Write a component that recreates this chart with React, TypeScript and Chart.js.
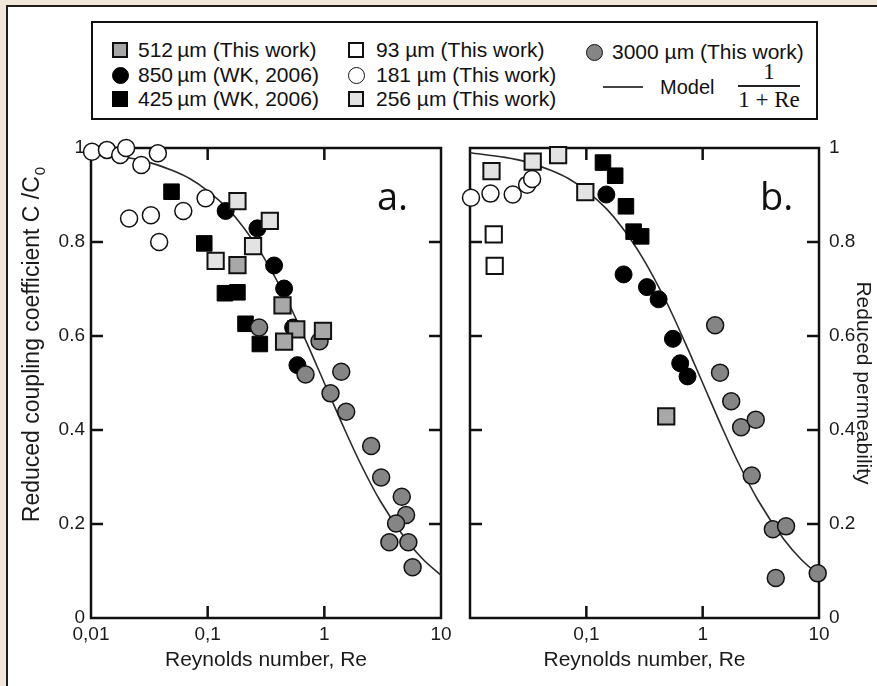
import React, { useEffect, useRef } from 'react';
import { Chart, registerables } from 'chart.js';

Chart.register(...registerables);

const SANS = '"Liberation Sans", Arial, Helvetica, sans-serif';
const SERIF = '"Liberation Serif", "Times New Roman", serif';

// ---------- axis ticks ----------
const xTickValues = [0.01, 0.1, 1, 10];
const xTickLabels = ['0,01', '0,1', '1', '10'];
const yTickValues = [0, 0.2, 0.4, 0.6, 0.8, 1];
const yTickLabels = ['0', '0.2', '0.4', '0.6', '0.8', '1'];
const innerXTicks = [0.1, 1];
const innerYTicks = [0.2, 0.4, 0.6, 0.8];

// ---------- legend labels ----------
const label512 = '512\u2009µm (This work)';
const label850 = '850\u2009µm (WK, 2006)';
const label425 = '425\u2009µm (WK, 2006)';
const label93 = '93 µm (This work)';
const label181 = '181 µm (This work)';
const label256 = '256 µm (This work)';
const label3000 = '3000 µm (This work)';
const labelModel = 'Model';

// ---------- model curve 1/(1+Re), read values ----------
const modelRe = [0.01, 0.02, 0.03, 0.05, 0.07, 0.1, 0.15, 0.2, 0.3, 0.5, 0.7, 1, 1.5, 2, 3, 5, 7, 10];
const modelVal = [0.990, 0.980, 0.971, 0.952, 0.935, 0.909, 0.870, 0.833, 0.769, 0.667, 0.588, 0.500, 0.400, 0.333, 0.250, 0.167, 0.125, 0.091];

// ---------- panel a: reduced coupling coefficient ----------
const a181Re = [0.0102, 0.0137, 0.0178, 0.020, 0.027, 0.0374, 0.096, 0.0212, 0.0326, 0.0618, 0.0384];
const a181C = [0.992, 0.996, 0.985, 1.0, 0.964, 0.989, 0.893, 0.850, 0.857, 0.866, 0.80];
const a425Re = [0.049, 0.0935, 0.1406, 0.180, 0.211, 0.28];
const a425C = [0.907, 0.797, 0.691, 0.693, 0.626, 0.583];
const a850Re = [0.1426, 0.267, 0.371, 0.452, 0.54, 0.588];
const a850C = [0.866, 0.829, 0.750, 0.701, 0.618, 0.538];
const a256Re = [0.180, 0.341, 0.245, 0.117];
const a256C = [0.887, 0.845, 0.791, 0.760];
const a512Re = [0.18, 0.438, 0.575, 0.452, 0.973];
const a512C = [0.751, 0.665, 0.614, 0.588, 0.611];
const a3000Re = [0.276, 0.91, 0.69, 1.397, 1.13, 1.54, 2.52, 3.07, 4.61, 5.02, 4.12, 3.61, 5.25, 5.71];
const a3000C = [0.618, 0.589, 0.518, 0.524, 0.478, 0.439, 0.366, 0.299, 0.258, 0.219, 0.201, 0.161, 0.161, 0.108];

// ---------- panel b: reduced permeability ----------
const b256Re = [0.0153, 0.0346, 0.0572, 0.098];
const b256K = [0.951, 0.971, 0.985, 0.906];
const b93Re = [0.016, 0.0163];
const b93K = [0.816, 0.749];
const b181Re = [0.0102, 0.015, 0.0233, 0.031, 0.0342];
const b181K = [0.894, 0.903, 0.901, 0.922, 0.934];
const b425Re = [0.139, 0.177, 0.219, 0.255, 0.296];
const b425K = [0.969, 0.941, 0.876, 0.822, 0.812];
const b850Re = [0.1486, 0.209, 0.332, 0.418, 0.555, 0.641, 0.741];
const b850K = [0.901, 0.731, 0.704, 0.678, 0.594, 0.542, 0.514];
const b512Re = [0.486];
const b512K = [0.429];
const b3000Re = [1.28, 1.41, 1.76, 2.14, 2.86, 2.64, 4.01, 5.21, 4.25, 9.75];
const b3000K = [0.623, 0.522, 0.461, 0.406, 0.422, 0.303, 0.189, 0.195, 0.085, 0.095];

// ---------- marker styles ----------
type MStyle = { shape: string; fill: string; border: string; radius: number; bw: number };
const ST: Record<string, MStyle> = {
  s512: { shape: 'rect', fill: '#a8a8a8', border: '#111', radius: 11.5, bw: 2 },
  s850: { shape: 'circle', fill: '#000', border: '#000', radius: 8.5, bw: 1 },
  s425: { shape: 'rect', fill: '#000', border: '#000', radius: 11, bw: 1 },
  s93: { shape: 'rect', fill: '#fff', border: '#111', radius: 11.5, bw: 2 },
  s181: { shape: 'circle', fill: '#fff', border: '#111', radius: 8.5, bw: 1.5 },
  s256: { shape: 'rect', fill: '#e3e3e3', border: '#111', radius: 11.5, bw: 2 },
  s3000: { shape: 'circle', fill: '#858585', border: '#111', radius: 8.5, bw: 1.5 },
};

function series(label: string, xs: number[], ys: number[], st: MStyle, order: number) {
  return {
    label,
    data: xs.map((x, i) => ({ x, y: ys[i] })),
    pointStyle: st.shape,
    pointRadius: st.radius,
    pointHoverRadius: st.radius,
    pointBackgroundColor: st.fill,
    pointBorderColor: st.border,
    pointBorderWidth: st.bw,
    backgroundColor: st.fill,
    borderColor: st.border,
    showLine: false,
    clip: false as any,
    order,
  };
}

function modelSeries() {
  return {
    label: labelModel,
    data: modelRe.map((x, i) => ({ x, y: modelVal[i] })),
    showLine: true,
    pointRadius: 0,
    borderColor: '#2a2a2a',
    borderWidth: 1.6,
    cubicInterpolationMode: 'monotone' as const,
    order: 100,
  };
}

const panelDecor = {
  id: 'panelDecor',
  beforeDatasetsDraw(chart: any) {
    const { ctx, chartArea, scales } = chart;
    const { left, right, top, bottom } = chartArea;
    ctx.save();
    ctx.strokeStyle = '#111';
    ctx.lineWidth = 2.5;
    ctx.strokeRect(left, top, right - left, bottom - top);
    ctx.beginPath();
    for (const v of innerYTicks) {
      const py = scales.y.getPixelForValue(v);
      ctx.moveTo(left, py); ctx.lineTo(left + 12, py);
      ctx.moveTo(right, py); ctx.lineTo(right - 12, py);
    }
    for (const v of innerXTicks) {
      const px = scales.x.getPixelForValue(v);
      ctx.moveTo(px, bottom); ctx.lineTo(px, bottom - 12);
      ctx.moveTo(px, top); ctx.lineTo(px, top + 12);
    }
    ctx.stroke();
    ctx.restore();
  },
  afterDraw(chart: any, _a: any, opts: any) {
    const { ctx, chartArea } = chart;
    ctx.save();
    ctx.fillStyle = '#111';
    ctx.font = '38px "Open Sans", "Liberation Sans", sans-serif';
    ctx.textAlign = 'left';
    ctx.textBaseline = 'alphabetic';
    ctx.fillText(opts.letter, chartArea.right - opts.letterDx, chartArea.top + 62);
    if (opts.yTitle) {
      ctx.translate(opts.yTitleX, opts.yTitleY);
      ctx.rotate(-Math.PI / 2);
      ctx.font = '23px ' + SANS;
      const w1 = ctx.measureText(opts.yTitle).width;
      ctx.font = '15px ' + SANS;
      const w2 = ctx.measureText(opts.yTitleSub).width;
      const start = -(w1 + w2) / 2;
      ctx.textBaseline = 'middle';
      ctx.fillStyle = '#1a1a1a';
      ctx.font = '23px ' + SANS;
      ctx.fillText(opts.yTitle, start, 0);
      ctx.font = '15px ' + SANS;
      ctx.fillText(opts.yTitleSub, start + w1 + 1, 8);
    }
    ctx.restore();
  },
};

function tickLabelX(v: number) {
  const i = xTickValues.findIndex((t) => Math.abs(t - v) < 1e-9);
  return i >= 0 ? xTickLabels[i] : '';
}
function tickLabelY(v: number) {
  const i = yTickValues.findIndex((t) => Math.abs(t - v) < 1e-9);
  return i >= 0 ? yTickLabels[i] : '';
}

function makeChart(canvas: HTMLCanvasElement, panel: 'a' | 'b', datasets: any[]) {
  const isA = panel === 'a';
  const xTicks = isA ? xTickValues : xTickValues.slice(1);
  return new Chart(canvas, {
    type: 'scatter',
    data: { datasets },
    plugins: [panelDecor as any],
    options: {
      animation: false,
      responsive: false,
      devicePixelRatio: 1,
      events: [],
      layout: {
        padding: isA ? { left: 0, right: 17, top: 148, bottom: 0 } : { left: 18, right: 0, top: 148, bottom: 0 },
      },
      plugins: {
        legend: { display: false },
        tooltip: { enabled: false },
        panelDecor: isA
          ? { letter: 'a.', letterDx: 64, yTitle: 'Reduced coupling coefficient C /C', yTitleSub: '0', yTitleX: 33, yTitleY: 345 }
          : { letter: 'b.', letterDx: 59, yTitle: '' },
      } as any,
      scales: {
        x: {
          type: 'logarithmic',
          position: 'bottom',
          min: 0.01,
          max: 10,
          afterBuildTicks: (s: any) => { s.ticks = xTicks.map((v) => ({ value: v })); },
          afterFit: (s: any) => { s.height = 68; },
          grid: { display: false, drawTicks: false },
          border: { display: false },
          ticks: {
            autoSkip: false,
            maxRotation: 0,
            padding: 5,
            color: '#1a1a1a',
            font: { family: SANS, size: 19 },
            callback: (v: any) => tickLabelX(Number(v)),
          },
          title: {
            display: true,
            text: 'Reynolds number, Re',
            color: '#1a1a1a',
            font: { family: SANS, size: 21 },
            padding: { top: 0, bottom: 13 },
          },
        } as any,
        y: {
          type: 'linear',
          position: isA ? 'left' : 'right',
          min: 0,
          max: 1,
          afterBuildTicks: (s: any) => { s.ticks = yTickValues.map((v) => ({ value: v })); },
          afterFit: (s: any) => { s.width = isA ? 91 : 58; },
          grid: { display: false, drawTicks: false },
          border: { display: false },
          ticks: {
            autoSkip: false,
            padding: isA ? 6 : 10,
            color: '#1a1a1a',
            font: { family: SANS, size: 19 },
            callback: (v: any) => tickLabelY(Number(v)),
          },
          title: {
            display: !isA,
            text: 'Reduced permeability',
            color: '#1a1a1a',
            font: { family: SANS, size: 21 },
            padding: { top: 2, bottom: 0 },
          },
        } as any,
      },
    },
  });
}

function LegendMarker({ st, x, y }: { st: MStyle; x: number; y: number }) {
  const size = st.shape === 'rect' ? 16 : 17;
  return (
    <div
      style={{
        position: 'absolute',
        left: x - size / 2,
        top: y - size / 2,
        width: size,
        height: size,
        boxSizing: 'border-box',
        background: st.fill,
        border: `${st.shape === 'rect' ? 2 : 1.5}px solid ${st.border}`,
        borderRadius: st.shape === 'circle' ? '50%' : 0,
      }}
    />
  );
}

function LegendText({ text, x, y, size = 21 }: { text: string; x: number; y: number; size?: number }) {
  return (
    <div
      style={{
        position: 'absolute',
        left: x,
        top: y - 13,
        height: 26,
        lineHeight: '26px',
        fontFamily: SANS,
        fontSize: size,
        color: '#111',
        whiteSpace: 'nowrap',
      }}
    >
      {text}
    </div>
  );
}

function Legend() {
  const rows = [50, 75, 99];
  return (
    <>
      <div
        style={{
          position: 'absolute',
          left: 91,
          top: 21,
          width: 727,
          height: 99,
          boxSizing: 'border-box',
          border: '2.5px solid #111',
          background: '#fff',
        }}
      />
      <LegendMarker st={ST.s512} x={120} y={rows[0]} />
      <LegendText text={label512} x={138} y={rows[0]} />
      <LegendMarker st={ST.s850} x={120} y={rows[1]} />
      <LegendText text={label850} x={138} y={rows[1]} />
      <LegendMarker st={ST.s425} x={120} y={rows[2]} />
      <LegendText text={label425} x={138} y={rows[2]} />

      <LegendMarker st={ST.s93} x={356} y={rows[0]} />
      <LegendText text={label93} x={376} y={rows[0]} />
      <LegendMarker st={ST.s181} x={356} y={rows[1]} />
      <LegendText text={label181} x={376} y={rows[1]} />
      <LegendMarker st={ST.s256} x={356} y={rows[2]} />
      <LegendText text={label256} x={376} y={rows[2]} />

      <LegendMarker st={ST.s3000} x={594} y={52} />
      <LegendText text={label3000} x={612} y={52} />
      <div style={{ position: 'absolute', left: 603, top: 86, width: 40, height: 1.6, background: '#444' }} />
      <LegendText text={labelModel} x={660} y={87} size={20} />
      <div
        style={{
          position: 'absolute', left: 738, top: 60, width: 62, textAlign: 'center',
          fontFamily: SERIF, fontSize: 23, lineHeight: '24px', color: '#111',
        }}
      >
        1
      </div>
      <div style={{ position: 'absolute', left: 738, top: 85, width: 62, height: 1.5, background: '#222' }} />
      <div
        style={{
          position: 'absolute', left: 734, top: 88, width: 70, textAlign: 'center',
          fontFamily: SERIF, fontSize: 23, lineHeight: '24px', color: '#111', whiteSpace: 'nowrap',
        }}
      >
        1 + Re
      </div>
    </>
  );
}

export default function App() {
  const refA = useRef<HTMLCanvasElement>(null);
  const refB = useRef<HTMLCanvasElement>(null);

  useEffect(() => {
    document.body.style.margin = '0';
    const dsA = [
      modelSeries(),
      series(label181, a181Re, a181C, ST.s181, 7),
      series(label425, a425Re, a425C, ST.s425, 6),
      series(label850, a850Re, a850C, ST.s850, 5),
      series(label256, a256Re, a256C, ST.s256, 4),
      series(label3000, a3000Re, a3000C, ST.s3000, 2),
      series(label512, a512Re, a512C, ST.s512, 1),
    ];
    const dsB = [
      modelSeries(),
      series(label181, b181Re, b181K, ST.s181, 7),
      series(label425, b425Re, b425K, ST.s425, 6),
      series(label256, b256Re, b256K, ST.s256, 5),
      series(label850, b850Re, b850K, ST.s850, 4),
      series(label93, b93Re, b93K, ST.s93, 3),
      series(label3000, b3000Re, b3000K, ST.s3000, 2),
      series(label512, b512Re, b512K, ST.s512, 1),
    ];
    const ca = makeChart(refA.current!, 'a', dsA);
    const cb = makeChart(refB.current!, 'b', dsB);
    return () => {
      ca.destroy();
      cb.destroy();
    };
  }, []);

  return (
    <div style={{ position: 'relative', width: 877, height: 686, overflow: 'hidden', background: '#f1e8d9' }}>
      <div
        style={{
          position: 'absolute', left: 6, top: 5, width: 900, height: 720,
          background: '#fff', border: '2px solid #1e1e1e',
        }}
      />
      <Legend />
      <canvas ref={refA} width={458} height={686} style={{ position: 'absolute', left: 0, top: 0 }} />
      <canvas ref={refB} width={425} height={686} style={{ position: 'absolute', left: 452, top: 0 }} />
    </div>
  );
}
